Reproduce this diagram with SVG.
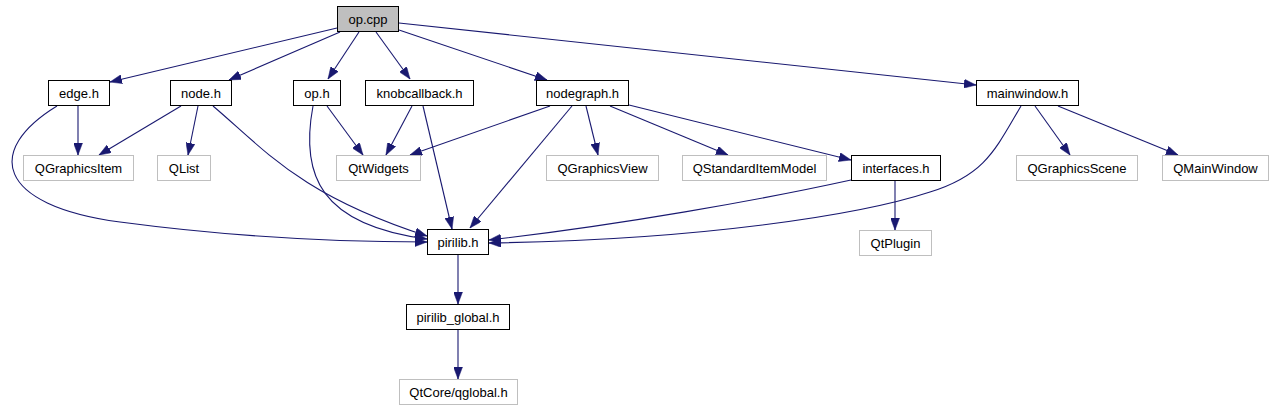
<svg xmlns="http://www.w3.org/2000/svg" width="1275" height="411" viewBox="0 0 1275 411">
<defs>
<style>
.n rect{fill:#fff;stroke:#000;stroke-width:1}
.x rect{fill:#fff;stroke:#bfbfbf;stroke-width:1}
.r rect{fill:#bfbfbf;stroke:#000;stroke-width:1}
text{font-family:"Liberation Sans",Arial,sans-serif;font-size:13px;fill:#000;text-anchor:middle}
#edges path{fill:none;stroke:#191970;stroke-width:1.1;marker-end:url(#ah)}
</style>
<marker id="ah" markerWidth="12" markerHeight="9" refX="12" refY="4.5" orient="auto" markerUnits="userSpaceOnUse">
<path d="M0,0 L12,4.5 L0,9 z" fill="#191970" stroke="#191970" stroke-width="0.5"/>
</marker>
</defs>
<rect width="1275" height="411" fill="#fff"/>
<g id="edges">
<path d="M337,28 L110,82"/>
<path d="M340,32 L229,80"/>
<path d="M359,32 L328,79"/>
<path d="M376,32 L410,79"/>
<path d="M399,30 L547,80"/>
<path d="M399,23 L976,85"/>
<path d="M78,106 L78,155"/>
<path d="M57,106 C-15,150 -5,205 120,222 C240,238 340,242 427,242"/>
<path d="M181,106 L99,155"/>
<path d="M198,106 L188,155"/>
<path d="M213,106 C265,150 300,195 427,236"/>
<path d="M327,106 L363,155"/>
<path d="M313,106 C300,175 320,225 427,239"/>
<path d="M412,106 L386,155"/>
<path d="M423,106 L452,229"/>
<path d="M550,106 L410,155"/>
<path d="M572,106 L470,228"/>
<path d="M586,106 L598,155"/>
<path d="M610,106 L728,155"/>
<path d="M629,105 L851,160"/>
<path d="M851,180 C760,200 620,225 489,240"/>
<path d="M895,181 L895,230"/>
<path d="M1035,106 L1070,155"/>
<path d="M1058,106 L1178,155"/>
<path d="M1021,106 C995,150 985,175 930,192 C860,215 700,240 489,243"/>
<path d="M458,255 L458,304"/>
<path d="M458,330 L458,379"/>
</g>
<g id="op_cpp" class="r"><rect x="337.5" y="6.5" width="61" height="25"/><text x="368" y="23.5">op.cpp</text></g>
<g id="edge_h" class="n"><rect x="48.5" y="80.5" width="61" height="25"/><text x="79" y="97.5">edge.h</text></g>
<g id="node_h" class="n"><rect x="170.5" y="80.5" width="61" height="25"/><text x="201" y="97.5">node.h</text></g>
<g id="op_h" class="n"><rect x="293.5" y="80.5" width="47" height="25"/><text x="317" y="97.5">op.h</text></g>
<g id="knobcallback_h" class="n"><rect x="365.5" y="80.5" width="108" height="25"/><text x="419.5" y="97.5">knobcallback.h</text></g>
<g id="nodegraph_h" class="n"><rect x="536.5" y="80.5" width="92" height="25"/><text x="582.5" y="97.5">nodegraph.h</text></g>
<g id="mainwindow_h" class="n"><rect x="976.5" y="80.5" width="102" height="25"/><text x="1027.5" y="97.5">mainwindow.h</text></g>
<g id="QGraphicsItem" class="x"><rect x="23.5" y="155.5" width="110" height="25"/><text x="78.5" y="172.5">QGraphicsItem</text></g>
<g id="QList" class="x"><rect x="157.5" y="155.5" width="53" height="25"/><text x="184" y="172.5">QList</text></g>
<g id="QtWidgets" class="x"><rect x="336.5" y="155.5" width="84" height="25"/><text x="378.5" y="172.5">QtWidgets</text></g>
<g id="QGraphicsView" class="x"><rect x="546.5" y="155.5" width="112" height="25"/><text x="602.5" y="172.5">QGraphicsView</text></g>
<g id="QStandardItemModel" class="x"><rect x="682.5" y="155.5" width="144" height="25"/><text x="754.5" y="172.5">QStandardItemModel</text></g>
<g id="interfaces_h" class="n"><rect x="851.5" y="155.5" width="89" height="25"/><text x="896" y="172.5">interfaces.h</text></g>
<g id="QGraphicsScene" class="x"><rect x="1016.5" y="155.5" width="121" height="25"/><text x="1077" y="172.5">QGraphicsScene</text></g>
<g id="QMainWindow" class="x"><rect x="1162.5" y="155.5" width="106" height="25"/><text x="1215.5" y="172.5">QMainWindow</text></g>
<g id="pirilib_h" class="n"><rect x="427.5" y="229.5" width="61" height="25"/><text x="458" y="246.5">pirilib.h</text></g>
<g id="QtPlugin" class="x"><rect x="859.5" y="230.5" width="72" height="25"/><text x="895.5" y="247.5">QtPlugin</text></g>
<g id="pirilib_global_h" class="n"><rect x="406.5" y="304.5" width="103" height="25"/><text x="458" y="321.5">pirilib_global.h</text></g>
<g id="QtCore_qglobal_h" class="x"><rect x="399.5" y="379.5" width="118" height="25"/><text x="458.5" y="396.5">QtCore/qglobal.h</text></g>
</svg>
